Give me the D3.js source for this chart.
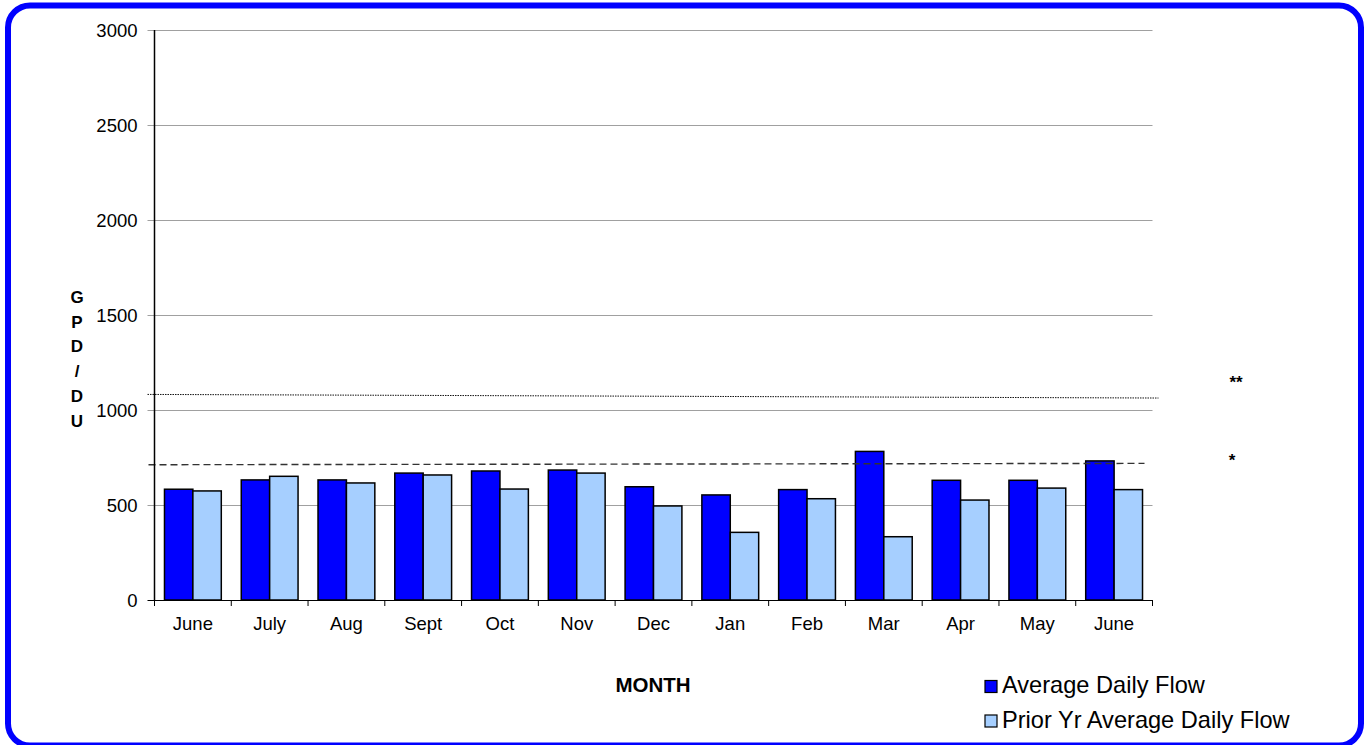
<!DOCTYPE html>
<html>
<head>
<meta charset="utf-8">
<script src="https://cdn.jsdelivr.net/npm/d3@7"></script>
<style>
  body { margin: 0; background: #fff; }
  svg { display: block; font-family: "Liberation Sans", Arial, sans-serif; }
</style>
</head>
<body>
<svg id="chart" width="1366" height="745"></svg>
<script>
const months = ["June", "July", "Aug", "Sept", "Oct", "Nov", "Dec", "Jan", "Feb", "Mar", "Apr", "May", "June"];
const avgFlow = [583, 632, 632, 668, 679, 684, 596, 553, 581, 782, 630, 630, 732];
const priorFlow = [574, 651, 616, 658, 584, 668, 495, 356, 533, 333, 526, 589, 581];
const yTicks = [0, 500, 1000, 1500, 2000, 2500, 3000];
// reference lines: value at left end, value at right end
const dashedLine = [712, 719];
const dottedLine = [1082, 1063];

const svg = d3.select("#chart");

// blue rounded frame
svg.append("rect")
  .attr("x", 8).attr("y", 5.5)
  .attr("width", 1353).attr("height", 740)
  .attr("rx", 22)
  .attr("fill", "none")
  .attr("stroke", "#0000ff")
  .attr("stroke-width", 6);

const plotLeft = 154.5, plotRight = 1152.5, plotTop = 30, plotBottom = 600;

const x = d3.scaleBand().domain(d3.range(months.length)).range([plotLeft, plotRight]).paddingInner(0).paddingOuter(0);
const y = d3.scaleLinear().domain([0, 3000]).range([plotBottom, plotTop]);

// gridlines
svg.append("g").selectAll("line")
  .data(yTicks.filter(d => d > 0))
  .join("line")
  .attr("x1", plotLeft - 7).attr("x2", plotRight)
  .attr("y1", d => Math.round(y(d)) + 0.5).attr("y2", d => Math.round(y(d)) + 0.5)
  .attr("stroke", "#a0a0a0").attr("stroke-width", 1);

// y tick labels
svg.append("g").selectAll("text")
  .data(yTicks)
  .join("text")
  .attr("x", plotLeft - 17)
  .attr("y", d => y(d))
  .attr("dy", "0.36em")
  .attr("text-anchor", "end")
  .attr("font-size", 18.5)
  .attr("fill", "#000")
  .text(d => d);

// bars
const bw = x.bandwidth();
const barW = bw * 0.37;
const gap = (bw - 2 * barW) / 2;

const groups = svg.append("g").selectAll("g")
  .data(months.map((m, i) => ({ i, m, a: avgFlow[i], p: priorFlow[i] })))
  .join("g");

groups.append("rect")
  .attr("x", d => x(d.i) + gap)
  .attr("y", d => y(d.a))
  .attr("width", barW)
  .attr("height", d => y(0) - y(d.a))
  .attr("fill", "#0000ff")
  .attr("stroke", "#000")
  .attr("stroke-width", 1.5);

groups.append("rect")
  .attr("x", d => x(d.i) + gap + barW)
  .attr("y", d => y(d.p))
  .attr("width", barW)
  .attr("height", d => y(0) - y(d.p))
  .attr("fill", "#a6cfff")
  .attr("stroke", "#000")
  .attr("stroke-width", 1.5);

// reference lines
svg.append("line")
  .attr("x1", plotLeft - 6).attr("x2", plotRight - 8)
  .attr("y1", y(dashedLine[0])).attr("y2", y(dashedLine[1]))
  .attr("stroke", "#333").attr("stroke-width", 1.4)
  .attr("stroke-dasharray", "7,4");

svg.append("line")
  .attr("x1", plotLeft - 7).attr("x2", plotRight + 6)
  .attr("y1", y(dottedLine[0])).attr("y2", y(dottedLine[1]))
  .attr("stroke", "#111").attr("stroke-width", 1)
  .attr("stroke-dasharray", "1.5,1");

svg.append("text")
  .attr("x", 1236).attr("y", 388)
  .attr("text-anchor", "middle")
  .attr("font-size", 17)
  .attr("font-weight", "bold")
  .text("**");

svg.append("text")
  .attr("x", 1232).attr("y", 466)
  .attr("text-anchor", "middle")
  .attr("font-size", 17)
  .attr("font-weight", "bold")
  .text("*");

// axes lines
svg.append("line")
  .attr("x1", plotLeft).attr("x2", plotLeft)
  .attr("y1", plotTop).attr("y2", plotBottom)
  .attr("stroke", "#000").attr("stroke-width", 1.5);

svg.append("line")
  .attr("x1", plotLeft - 7).attr("x2", plotRight)
  .attr("y1", plotBottom + 0.5).attr("y2", plotBottom + 0.5)
  .attr("stroke", "#000").attr("stroke-width", 1.2);

// x ticks at band edges
svg.append("g").selectAll("line")
  .data(d3.range(months.length + 1))
  .join("line")
  .attr("x1", i => plotLeft + i * bw).attr("x2", i => plotLeft + i * bw)
  .attr("y1", plotBottom).attr("y2", plotBottom + 6)
  .attr("stroke", "#000").attr("stroke-width", 1);

// x labels
svg.append("g").selectAll("text")
  .data(months)
  .join("text")
  .attr("x", (d, i) => x(i) + bw / 2)
  .attr("y", 630)
  .attr("text-anchor", "middle")
  .attr("font-size", 18.5)
  .text(d => d);

// axis titles
svg.append("text")
  .attr("x", 653).attr("y", 692)
  .attr("text-anchor", "middle")
  .attr("font-size", 20.5)
  .attr("font-weight", "bold")
  .text("MONTH");

svg.append("g").selectAll("text")
  .data(["G", "P", "D", "/", "D", "U"])
  .join("text")
  .attr("x", 77)
  .attr("y", (d, i) => 303 + i * 24.7)
  .attr("text-anchor", "middle")
  .attr("font-size", 17)
  .attr("font-weight", "bold")
  .text(d => d);

// legend
const legend = [
  { label: "Average Daily Flow", color: "#0000ff" },
  { label: "Prior Yr Average Daily Flow", color: "#a6cfff" }
];
const lg = svg.append("g").selectAll("g")
  .data(legend)
  .join("g")
  .attr("transform", (d, i) => `translate(985,${680.5 + i * 34.5})`);
lg.append("rect")
  .attr("width", 12).attr("height", 12)
  .attr("fill", d => d.color)
  .attr("stroke", "#000").attr("stroke-width", 1.2);
lg.append("text")
  .attr("x", 17).attr("y", 12.5)
  .attr("font-size", 23.6)
  .text(d => d.label);
</script>
</body>
</html>
